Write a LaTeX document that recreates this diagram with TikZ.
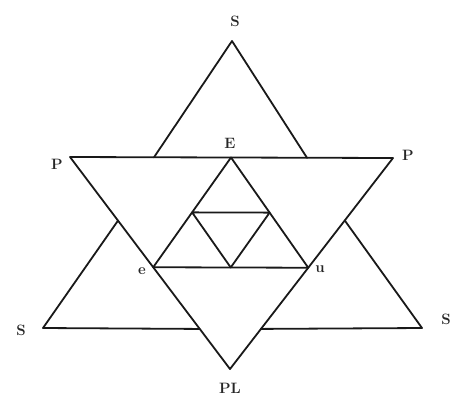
\documentclass[tikz,border=0pt]{standalone}
\usetikzlibrary{calc}
\begin{document}
\begin{tikzpicture}[x=1pt,y=-1pt,
  edge/.style={line width=1.8pt,line join=round,line cap=round,draw=black!90},
  lbl/.style={font=\fontsize{15}{17}\selectfont\bfseries,text=black!85,inner sep=0pt}]
\useasboundingbox (0,0) rectangle (454,400);
% main inverted triangle
\coordinate (P1) at (70,157);
\coordinate (P2) at (393,158);
\coordinate (PL) at (230,369);
% top triangle
\coordinate (ST) at (232,41);
\coordinate (TL) at (154,157.3);
\coordinate (TR) at (307,157.8);
% side triangles
\coordinate (AL) at ($(P1)!0.3!(PL)$);
\coordinate (BL) at ($(P1)!0.811!(PL)$);
\coordinate (SL) at (43,328);
\coordinate (AR) at ($(P2)!0.296!(PL)$);
\coordinate (BR) at ($(P2)!0.81!(PL)$);
\coordinate (SR) at (422,328);
% inner triangle
\coordinate (E) at (231,157.5);
\coordinate (e) at ($(P1)!0.52!(PL)$);
\coordinate (u) at ($(P2)!0.52!(PL)$);
\coordinate (m1) at ($(E)!0.5!(e)$);
\coordinate (m2) at ($(E)!0.5!(u)$);
\coordinate (m3) at ($(e)!0.5!(u)$);

\draw[edge] (P1) -- (P2) -- (PL) -- cycle;
\draw[edge] (TL) -- (ST) -- (TR);
\draw[edge] (AL) -- (SL) -- (BL);
\draw[edge] (AR) -- (SR) -- (BR);
\draw[edge] (E) -- (e) -- (u) -- cycle;
\draw[edge] (m1) -- (m2) -- (m3) -- cycle;

\node[lbl] (lS1) at (235,21) {S};
\node[lbl] (lE) at (230,143) {E};
\node[lbl] (lP1) at (57,164) {P};
\node[lbl] (lP2) at (408,155) {P};
\node[lbl] (le) at (142,271) {e};
\node[lbl] (lu) at (320,269) {u};
\node[lbl] (lS2) at (21,330) {S};
\node[lbl] (lS3) at (446,319) {S};
\node[lbl] (lPL) at (230,388) {PL};
\end{tikzpicture}
\end{document}
